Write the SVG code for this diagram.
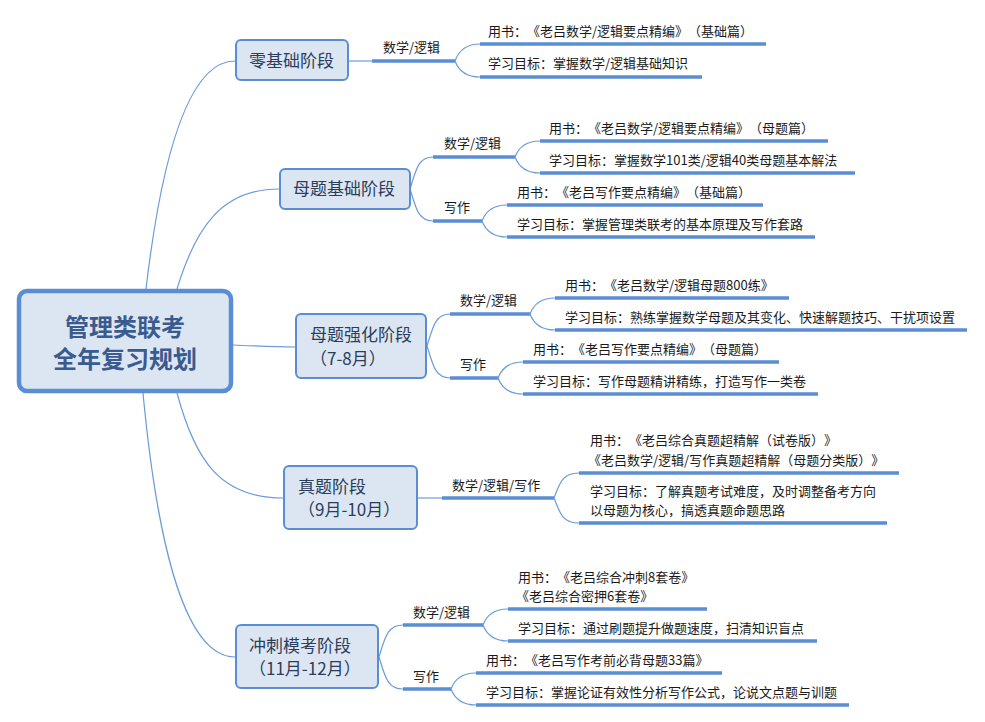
<svg xmlns="http://www.w3.org/2000/svg" width="985" height="722" viewBox="0 0 985 722">
<style>
  .bg{fill:#ffffff}
  .node{fill:#dce6f2;stroke:#5a8ed4;stroke-width:2}
  .root{fill:#dce6f2;stroke:#5a8ed4;stroke-width:4.5}
  .thin{fill:none;stroke:#6b9bd9;stroke-width:1.2}
  .thick{fill:none;stroke:#5a8ed4;stroke-width:3.5}
  text{font-family:"Microsoft YaHei","Noto Sans CJK SC","Noto Sans",sans-serif;text-spacing-trim:space-all}
  .rt{font-size:24px;font-weight:bold;fill:#395b8f;text-anchor:middle}
  .nt{font-size:17px;fill:#2b3d5a}
  .lt{font-size:13px;fill:#1a1a1a}
</style>
<rect class="bg" x="0" y="0" width="985" height="722"/>

<g id="connectors">
  <path class="thin" d="M146,289 C160,170 185,61 235,61"/>
  <path class="thin" d="M177,289 C195,230 220,189 279,189"/>
  <path class="thin" d="M233,345 C260,346 270,347 295,347"/>
  <path class="thin" d="M177,393 C195,460 220,498 283,498"/>
  <path class="thin" d="M143,393 C155,520 180,657 235,657"/>

  <path class="thin" d="M349,61 L372,61"/>
  <path class="thick" d="M372,61 L455,61"/>
  <path class="thin" d="M455,61 Q461,44 480,44"/>
  <path class="thin" d="M455,61 Q461,77 480,77"/>
  <path class="thick" d="M480,44 L766,44"/>
  <path class="thick" d="M480,77 L702,77"/>

  <path class="thin" d="M410,189 C416,170 418,157 433,157"/>
  <path class="thin" d="M410,189 C416,208 418,221 433,221"/>
  <path class="thick" d="M433,157 L515,157"/>
  <path class="thick" d="M433,221 L482,221"/>
  <path class="thin" d="M515,157 Q521,141 540,141"/>
  <path class="thin" d="M515,157 Q521,173 540,173"/>
  <path class="thick" d="M540,141 L828,141"/>
  <path class="thick" d="M540,173 L855,173"/>
  <path class="thin" d="M482,221 Q488,205 507,205"/>
  <path class="thin" d="M482,221 Q488,237 507,237"/>
  <path class="thick" d="M507,205 L763,205"/>
  <path class="thick" d="M507,237 L815,237"/>

  <path class="thin" d="M427,346 C433,327 435,314 450,314"/>
  <path class="thin" d="M427,346 C433,365 435,378 450,378"/>
  <path class="thick" d="M450,314 L530,314"/>
  <path class="thick" d="M450,378 L498,378"/>
  <path class="thin" d="M530,314 Q536,298 555,298"/>
  <path class="thin" d="M530,314 Q536,330 555,330"/>
  <path class="thick" d="M555,298 L789,298"/>
  <path class="thick" d="M555,330 L967,330"/>
  <path class="thin" d="M498,378 Q504,362 523,362"/>
  <path class="thin" d="M498,378 Q504,394 523,394"/>
  <path class="thick" d="M523,362 L779,362"/>
  <path class="thick" d="M523,394 L818,394"/>

  <path class="thin" d="M418,498 L442,498"/>
  <path class="thick" d="M442,498 L554,498"/>
  <path class="thin" d="M554,498 C560,482 563,473 579,473"/>
  <path class="thin" d="M554,498 C560,514 563,523 579,523"/>
  <path class="thick" d="M579,473 L899,473"/>
  <path class="thick" d="M579,523 L887,523"/>

  <path class="thin" d="M379,657 C385,638 387,625 403,625"/>
  <path class="thin" d="M379,657 C385,676 387,689 403,689"/>
  <path class="thick" d="M403,625 L483,625"/>
  <path class="thick" d="M403,689 L451,689"/>
  <path class="thin" d="M483,625 Q489,609 508,609"/>
  <path class="thin" d="M483,625 Q489,641 508,641"/>
  <path class="thick" d="M508,609 L707,609"/>
  <path class="thick" d="M508,641 L817,641"/>
  <path class="thin" d="M451,689 Q457,673 476,673"/>
  <path class="thin" d="M451,689 Q457,705 476,705"/>
  <path class="thick" d="M476,673 L722,673"/>
  <path class="thick" d="M476,705 L849,705"/>
</g>

<g id="root">
  <rect class="root" x="19" y="291" width="212" height="100" rx="8"/>
  <text class="rt" x="125" y="336">管理类联考</text>
  <text class="rt" x="125" y="368">全年复习规划</text>
</g>

<g id="stage1">
  <rect class="node" x="236" y="40" width="112" height="40" rx="5"/>
  <text class="nt" x="249" y="67">零基础阶段</text>
</g>
<g id="stage1-sub">
  <text class="lt" x="383" y="52">数学/逻辑</text>
  <text class="lt" x="488" y="36">用书：《老吕数学/逻辑要点精编》（基础篇）</text>
  <text class="lt" x="488" y="68">学习目标：掌握数学/逻辑基础知识</text>
</g>

<g id="stage2">
  <rect class="node" x="280" y="169" width="130" height="40" rx="5"/>
  <text class="nt" x="293" y="195">母题基础阶段</text>
</g>
<g id="stage2-sub">
  <text class="lt" x="444" y="148">数学/逻辑</text>
  <text class="lt" x="444" y="212">写作</text>
  <text class="lt" x="549" y="133">用书：《老吕数学/逻辑要点精编》（母题篇）</text>
  <text class="lt" x="549" y="165">学习目标：掌握数学101类/逻辑40类母题基本解法</text>
  <text class="lt" x="517" y="197">用书：《老吕写作要点精编》（基础篇）</text>
  <text class="lt" x="517" y="229">学习目标：掌握管理类联考的基本原理及写作套路</text>
</g>

<g id="stage3">
  <rect class="node" x="296" y="314" width="130" height="64" rx="5"/>
  <text class="nt" x="310" y="341">母题强化阶段</text>
  <text class="nt" x="310" y="365">（7-8月）</text>
</g>
<g id="stage3-sub">
  <text class="lt" x="460" y="305">数学/逻辑</text>
  <text class="lt" x="460" y="369">写作</text>
  <text class="lt" x="565" y="290">用书：《老吕数学/逻辑母题800练》</text>
  <text class="lt" x="565" y="322">学习目标：熟练掌握数学母题及其变化、快速解题技巧、干扰项设置</text>
  <text class="lt" x="533" y="354">用书：《老吕写作要点精编》（母题篇）</text>
  <text class="lt" x="533" y="386">学习目标：写作母题精讲精练，打造写作一类卷</text>
</g>

<g id="stage4">
  <rect class="node" x="284" y="466" width="133" height="63" rx="5"/>
  <text class="nt" x="298" y="493">真题阶段</text>
  <text class="nt" x="298" y="516">（9月-10月）</text>
</g>
<g id="stage4-sub">
  <text class="lt" x="452" y="490">数学/逻辑/写作</text>
  <text class="lt" x="590" y="445">用书：《老吕综合真题超精解（试卷版）》</text>
  <text class="lt" x="588" y="465">《老吕数学/逻辑/写作真题超精解（母题分类版）》</text>
  <text class="lt" x="590" y="496">学习目标：了解真题考试难度，及时调整备考方向</text>
  <text class="lt" x="590" y="515">以母题为核心，搞透真题命题思路</text>
</g>

<g id="stage5">
  <rect class="node" x="236" y="625" width="142" height="63" rx="5"/>
  <text class="nt" x="249" y="652">冲刺模考阶段</text>
  <text class="nt" x="249" y="675">（11月-12月）</text>
</g>
<g id="stage5-sub">
  <text class="lt" x="413" y="617">数学/逻辑</text>
  <text class="lt" x="413" y="681">写作</text>
  <text class="lt" x="518" y="582">用书：《老吕综合冲刺8套卷》</text>
  <text class="lt" x="516" y="601">《老吕综合密押6套卷》</text>
  <text class="lt" x="518" y="633">学习目标：通过刷题提升做题速度，扫清知识盲点</text>
  <text class="lt" x="486" y="665">用书：《老吕写作考前必背母题33篇》</text>
  <text class="lt" x="486" y="697">学习目标：掌握论证有效性分析写作公式，论说文点题与训题</text>
</g>
</svg>
